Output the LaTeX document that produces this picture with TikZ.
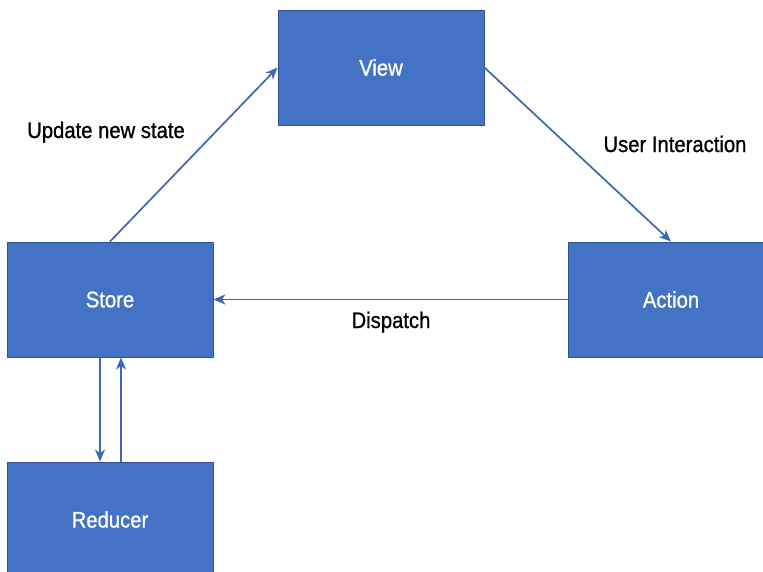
\documentclass[tikz,border=0pt]{standalone}
\usepackage{fontspec}
\setmainfont[FakeStretch=0.9,FakeBold=0.9]{Liberation Sans}
\usetikzlibrary{arrows.meta}
\definecolor{boxfill}{HTML}{4472C4}
\definecolor{boxedge}{HTML}{2F528F}
\definecolor{linkcol}{HTML}{3D67B3}
\tikzset{
  block/.style={rectangle, fill=boxfill, draw=boxedge, line width=0.9pt,
    minimum width=206pt, minimum height=115pt, inner sep=0pt,
    text=white, font=\fontsize{22.5}{26}\selectfont},
  link/.style={draw=linkcol, line width=1.7pt,
    -{Stealth[length=12pt,width=10pt,inset=3.5pt]}},
  caption/.style={anchor=base, text=black, inner sep=0pt,
    font=\fontsize{22.5}{26}\selectfont}
}
\begin{document}
\begin{tikzpicture}[x=1pt,y=-1pt]
  \useasboundingbox (0,0) rectangle (763,571);
  \begin{scope}
    \clip (0,0) rectangle (763,571);
    \node[block] (view)    at (381,67.5)  {View};
    \node[block] (store)   at (110,299.5) {Store};
    \node[block] (action)  at (671,299.5) {Action};
    \node[block] (reducer) at (110,519.5) {Reducer};
  \end{scope}

  \draw[link] (store.north) -- (view.west);
  \draw[link] (view.east) -- (action.north);
  \draw[link] (action.west) -- (store.east);
  \draw[link] ([xshift=-10pt]store.south) -- ([xshift=-10pt]reducer.north);
  \draw[link] ([xshift=11pt]reducer.north) -- ([xshift=11pt]store.south);

  \node[caption] (update)   at (106,138) {Update new state};
  \node[caption] (interact) at (675,152) {User Interaction};
  \node[caption] (dispatch) at (391,328) {Dispatch};
\end{tikzpicture}
\end{document}
